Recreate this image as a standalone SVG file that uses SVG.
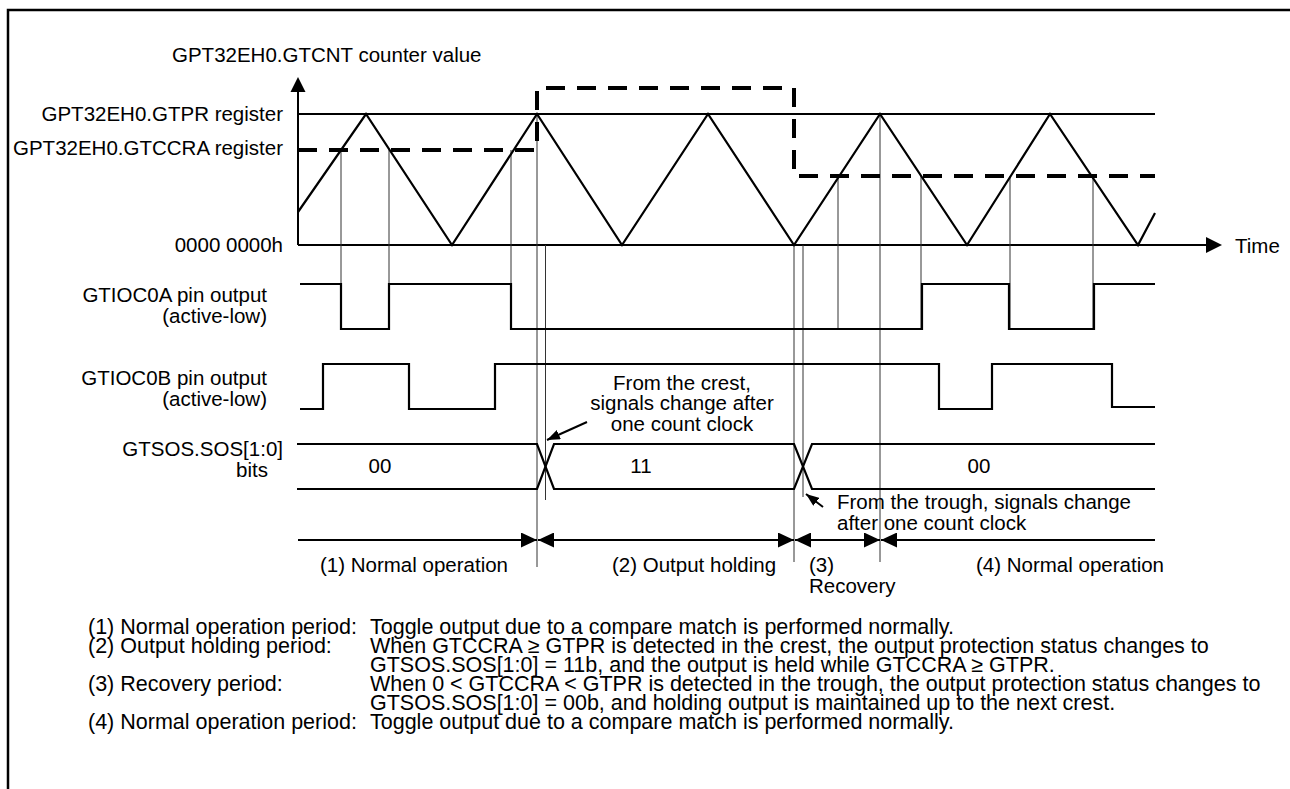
<svg xmlns="http://www.w3.org/2000/svg" width="1290" height="789" viewBox="0 0 1290 789">
<style>
  text { font-family: "Liberation Sans", Arial, sans-serif; font-size: 20.5px; fill: #000; }
  .end { text-anchor: end; }
  .mid { text-anchor: middle; }
  .desc { font-size: 21.5px; }
  .wave { fill: none; stroke: #000; stroke-width: 2.2; stroke-linejoin: miter; }
  .thin { fill: none; stroke: #333; stroke-width: 1; }
  .dash { fill: none; stroke: #000; stroke-width: 4; stroke-dasharray: 19 12; }
  .arr { fill: none; stroke: #000; stroke-width: 2; }
</style>
<defs>
  <marker id="ah" viewBox="0 0 16 15" refX="16" refY="7.5" markerWidth="16" markerHeight="15" markerUnits="userSpaceOnUse" orient="auto-start-reverse">
    <path d="M0,0 L16,7.5 L0,15 z" fill="#000"/>
  </marker>
  <marker id="ahs" viewBox="0 0 13 10" refX="13" refY="5" markerWidth="13" markerHeight="10" markerUnits="userSpaceOnUse" orient="auto">
    <path d="M0,0 L13,5 L0,10 z" fill="#000"/>
  </marker>
</defs>

<g id="frame">
  <path d="M8,789 V10 H1290" fill="none" stroke="#000" stroke-width="2.5"/>
</g>

<g id="axes">
  <line x1="298" y1="91" x2="298" y2="245" stroke="#000" stroke-width="2"/>
  <path d="M298,77 L290.5,92 L305.5,92 z" fill="#000"/>
  <line x1="298" y1="245" x2="1208" y2="245" stroke="#000" stroke-width="2"/>
  <path d="M1222,245 L1206,237 L1206,253 z" fill="#000"/>
  <line x1="298" y1="114" x2="1155" y2="114" stroke="#000" stroke-width="2"/>
</g>

<g id="axis-labels">
  <text x="172" y="62">GPT32EH0.GTCNT counter value</text>
  <text class="end" x="283" y="121">GPT32EH0.GTPR register</text>
  <text class="end" x="283" y="155">GPT32EH0.GTCCRA register</text>
  <text class="end" x="283" y="252">0000 0000h</text>
  <text x="1235" y="253">Time</text>
</g>

<g id="row-labels">
  <text class="end" x="267" y="302">GTIOC0A pin output</text>
  <text class="end" x="267" y="323">(active-low)</text>
  <text class="end" x="267" y="385">GTIOC0B pin output</text>
  <text class="end" x="267" y="406">(active-low)</text>
  <text class="end" x="283" y="456">GTSOS.SOS[1:0]</text>
  <text class="end" x="268" y="477">bits</text>
</g>

<g id="guides">
  <path class="thin" d="M341,150 V329 M389,150 V329 M511,150 V329 M537,114 V567 M545.5,245 V500 M794,245 V562 M803,245 V497 M838,176 V329 M880,114 V562 M921,176 V329 M1010,176 V329 M1093,176 V329"/>
</g>

<g id="counter">
  <path class="wave" d="M298,212 L366,114 L452,245 L537,114 L622,245 L708,114 L794,245 L880,114 L967,245 L1050,114 L1138,245 L1155,213"/>
  <path class="dash" d="M298,150 H537 V88 H794 V176 H1155"/>
</g>

<g id="gtioc0a">
  <path class="wave" d="M300,284 H341 V329 H389 V284 H511 V329 H922 V284 H1009 V329 H1094 V284 H1155"/>
</g>

<g id="gtioc0b">
  <path class="wave" d="M300,409 H323 V364 H409 V409 H495 V364 H939 V409 H992 V364 H1112 V407 H1155"/>
</g>

<g id="sos">
  <path class="wave" d="M297,444 H537 L554,489 H794 L812,444 H1155"/>
  <path class="wave" d="M297,489 H537 L554,444 H794 L812,489 H1155"/>
  <text class="mid" x="380" y="473">00</text>
  <text class="mid" x="641" y="473">11</text>
  <text class="mid" x="979" y="473">00</text>
</g>

<g id="notes">
  <line class="arr" x1="587" y1="422" x2="547" y2="440" marker-end="url(#ahs)"/>
  <text class="mid" x="682" y="390">From the crest,</text>
  <text class="mid" x="682" y="410">signals change after</text>
  <text class="mid" x="682" y="431">one count clock</text>
  <line class="arr" x1="823" y1="507" x2="806" y2="494" marker-end="url(#ahs)"/>
  <text x="837" y="509">From the trough, signals change</text>
  <text x="837" y="530">after one count clock</text>
</g>

<g id="periods">
  <line class="arr" x1="298" y1="540" x2="537" y2="540" marker-end="url(#ah)"/>
  <line class="arr" x1="538" y1="540" x2="794" y2="540" marker-start="url(#ah)" marker-end="url(#ah)"/>
  <line class="arr" x1="795" y1="540" x2="880" y2="540" marker-start="url(#ah)" marker-end="url(#ah)"/>
  <line class="arr" x1="881" y1="540" x2="1155" y2="540" marker-start="url(#ah)"/>
  <text x="320" y="572">(1) Normal operation</text>
  <text x="612" y="572">(2) Output holding</text>
  <text x="809" y="572">(3)</text>
  <text x="809" y="593">Recovery</text>
  <text x="976" y="572">(4) Normal operation</text>
</g>

<g id="legend">
  <text class="desc" x="88" y="634">(1) Normal operation period:</text>
  <text class="desc" x="370" y="634">Toggle output due to a compare match is performed normally.</text>
  <text class="desc" x="88" y="653">(2) Output holding period:</text>
  <text class="desc" x="370" y="653">When GTCCRA ≥ GTPR is detected in the crest, the output protection status changes to</text>
  <text class="desc" x="370" y="672">GTSOS.SOS[1:0] = 11b, and the output is held while GTCCRA ≥ GTPR.</text>
  <text class="desc" x="88" y="691">(3) Recovery period:</text>
  <text class="desc" x="370" y="691">When 0 &lt; GTCCRA &lt; GTPR is detected in the trough, the output protection status changes to</text>
  <text class="desc" x="370" y="710">GTSOS.SOS[1:0] = 00b, and holding output is maintained up to the next crest.</text>
  <text class="desc" x="88" y="729">(4) Normal operation period:</text>
  <text class="desc" x="370" y="729">Toggle output due to a compare match is performed normally.</text>
</g>
</svg>
